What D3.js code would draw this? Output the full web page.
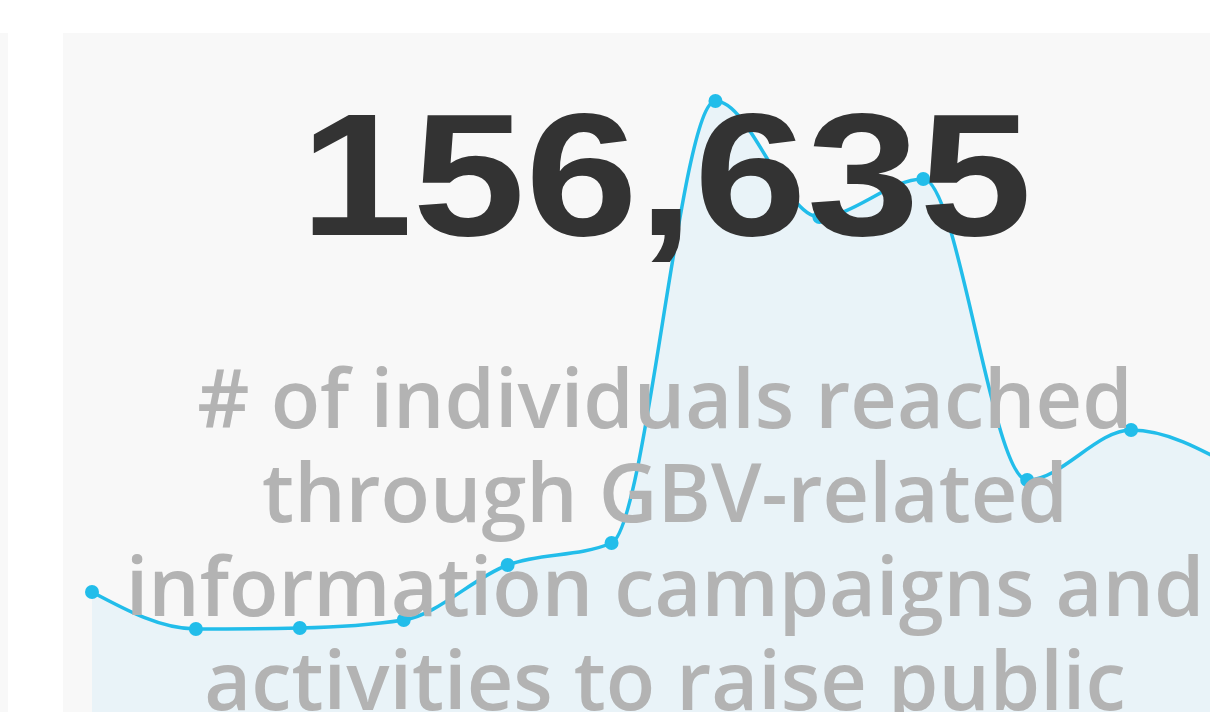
<!DOCTYPE html>
<html>
<head>
<meta charset="utf-8">
<script src="https://cdn.jsdelivr.net/npm/d3@7"></script>
<style>
  body { margin: 0; background: #fff; overflow: hidden; }
</style>
</head>
<body>
<div id="card"></div>
<script>
// data for the sparkline, one value per month
const months = ['Jan', 'Feb', 'Mar', 'Apr', 'May', 'Jun', 'Jul', 'Aug', 'Sep', 'Oct', 'Nov', 'Dec'];
const reached = [6078, 4204, 4255, 4660, 7446, 8560, 30949, 25074, 26998, 11752, 14284, 12375];
const titleLines = ['# of individuals reached', 'through GBV-related', 'information campaigns and', 'activities to raise public'];

const width = 1210;
const height = 712;

const svg = d3.select('#card')
    .append('svg')
    .attr('width', width)
    .attr('height', height);

// grey panels behind the card
svg.append('rect')
    .attr('x', 0).attr('y', 33)
    .attr('width', 8).attr('height', height)
    .attr('fill', '#f8f8f8');

svg.append('rect')
    .attr('x', 63).attr('y', 33)
    .attr('width', width).attr('height', height)
    .attr('fill', '#f8f8f8');

// scales, the last point sits a bit past the right edge
const x = d3.scalePoint()
    .domain(months)
    .range([92, 1235]);

const y = d3.scaleLinear()
    .domain([0, 31000])
    .range([712, 100]);

const area = d3.area()
    .x((d, i) => x(months[i]))
    .y0(y(0))
    .y1(d => y(d))
    .curve(d3.curveMonotoneX);

const line = d3.line()
    .x((d, i) => x(months[i]))
    .y(d => y(d))
    .curve(d3.curveMonotoneX);

svg.append('path')
    .datum(reached)
    .attr('d', area)
    .attr('fill', '#e9f3f8');

svg.append('path')
    .datum(reached)
    .attr('d', line)
    .attr('fill', 'none')
    .attr('stroke', '#22bdea')
    .attr('stroke-width', 3.5);

svg.append('g')
    .attr('fill', '#22bdea')
    .selectAll('circle')
    .data(reached)
    .join('circle')
    .attr('cx', (d, i) => x(months[i]))
    .attr('cy', d => y(d))
    .attr('r', 7);

// the big total goes on top of the line
svg.append('text')
    .attr('x', 666)
    .attr('y', 235)
    .attr('text-anchor', 'middle')
    .attr('font-family', '"Liberation Sans", Arial, sans-serif')
    .attr('font-weight', 'bold')
    .attr('font-size', 175)
    .attr('textLength', 732)
    .attr('lengthAdjust', 'spacingAndGlyphs')
    .attr('fill', '#333333')
    .text(d3.format(',')(d3.sum(reached)));

// the title, cut off at the bottom like in the card
svg.append('g')
    .attr('font-family', '"Open Sans", "Noto Sans", sans-serif')
    .attr('font-weight', 600)
    .attr('font-size', 81)
    .attr('fill', '#b3b3b3')
    .attr('text-anchor', 'middle')
    .selectAll('text')
    .data(titleLines)
    .join('text')
    .attr('x', 665)
    .attr('y', (d, i) => 428 + i * 94)
    .text(d => d);
</script>
</body>
</html>
